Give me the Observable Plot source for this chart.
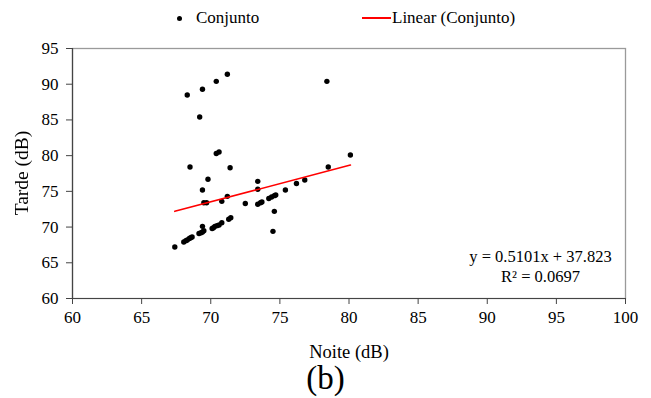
<!DOCTYPE html>
<html>
<head>
<meta charset="utf-8">
<script src="https://cdn.jsdelivr.net/npm/d3@7"></script>
<script src="https://cdn.jsdelivr.net/npm/@observablehq/plot@0.6"></script>
<style>
  body { margin: 0; background: #fff; }
  #wrap { position: relative; width: 651px; height: 398px; font-family: "Liberation Serif", "Times New Roman", serif; color: #000; background: #fff; }
  #wrap > svg { position: absolute; left: 0; top: 0; }
  .legend { position: absolute; top: 7px; left: 0; width: 651px; height: 22px; font-size: 17px; }
  .legend .item { position: absolute; top: 0; display: flex; align-items: center; height: 22px; }
  .legend .dot { width: 5px; height: 5px; border-radius: 50%; background: #000; margin-right: 14px; }
  .legend .swatch { width: 29px; height: 2px; background: #ff0000; margin-right: 1px; }
  .caption { position: absolute; top: 358px; left: 0; width: 651px; text-align: center; font-size: 33px; line-height: 40px; }
  .ytitle { position: absolute; left: 22px; top: 173px; width: 160px; margin-left: -80px; margin-top: -12px; height: 24px; line-height: 24px;
            text-align: center; font-size: 19.5px; color: #000; transform: rotate(-90deg); will-change: transform; background: #fff; }
</style>
</head>
<body>
<div id="wrap">
  <div class="legend">
    <div class="item" style="left:177px"><span class="dot"></span><span>Conjunto</span></div>
    <div class="item" style="left:362px"><span class="swatch"></span><span>Linear (Conjunto)</span></div>
  </div>
  <div class="ytitle" id="ytitle"></div>
  <div class="caption">(b)</div>
</div>
<script>
// Night (Noite) and afternoon (Tarde) sound levels, dB
const noite = [
  71.2, 70.4, 69.4, 68.3, 69.2, 78.4,
  70.4, 70.6, 68.5, 71.4, 69.8, 73.4, 69.4, 73.4,
  71.2, 70.8, 69.5, 69.7, 72.5, 73.4, 73.6, 73.7,
  74.2, 74.4, 74.6, 74.7, 74.6, 74.5,
  67.4, 68.05, 68.2, 68.3, 68.45, 68.55, 68.65,
  69.15, 69.3, 69.4, 69.4, 69.5,
  70.1, 70.2, 70.3, 70.45, 70.6, 70.8, 71.3, 71.45,
  80.1, 78.5, 76.8, 76.2, 75.4
];
const tarde = [
  91.4, 90.4, 89.3, 88.5, 85.4, 90.4,
  80.3, 80.5, 78.4, 78.3, 76.7, 76.4, 75.2, 75.3,
  74.3, 73.6, 73.4, 73.4, 73.3, 73.2, 73.4, 73.5,
  74.0, 74.2, 74.4, 74.5, 72.2, 69.4,
  67.2, 67.9, 68.1, 68.2, 68.4, 68.5, 68.6,
  69.1, 69.2, 69.3, 70.1, 69.5,
  69.8, 69.9, 70.1, 70.2, 70.3, 70.6, 71.1, 71.3,
  80.1, 78.4, 76.6, 76.1, 75.2
];

// Linear trendline fitted to the set
const slope = 0.5101;
const intercept = 37.823;
const r2 = 0.0697;

const xTicks = [60, 65, 70, 75, 80, 85, 90, 95, 100];
const yTicks = [60, 65, 70, 75, 80, 85, 90, 95];
const xLabel = "Noite (dB)";
const yLabel = "Tarde (dB)";

const points = noite.map((x, i) => ({x, y: tarde[i]}));
const xMin = d3.min(noite), xMax = d3.max(noite);
const trend = [xMin, xMax].map(x => ({x, y: slope * x + intercept}));

const chart = Plot.plot({
  width: 651,
  height: 398,
  marginLeft: 72,
  marginRight: 26,
  marginTop: 48,
  marginBottom: 100,
  style: {fontFamily: "Liberation Serif, Times New Roman, serif", fontSize: "17px", color: "#000", background: "#fff"},
  x: {domain: [60, 100]},
  y: {domain: [60, 95]},
  marks: [
    Plot.frame({stroke: "#9a9a9a", strokeWidth: 1.3}),
    Plot.ruleX([60], {stroke: "#444", strokeWidth: 1.2}),
    Plot.ruleY([60], {stroke: "#444", strokeWidth: 1.2}),
    Plot.axisX({ticks: xTicks, tickSize: 6, tickPadding: 6, fontSize: 17, label: null, stroke: "#444"}),
    Plot.axisY({ticks: yTicks, tickSize: 6, tickPadding: 8, fontSize: 17, label: null, stroke: "#444"}),
    Plot.text([xLabel], {frameAnchor: "bottom", dy: 54, lineAnchor: "middle", fontSize: 18.5, fill: "#000"}),
    Plot.dot(points, {x: "x", y: "y", r: 2.7, fill: "#000", stroke: null}),
    Plot.line(trend, {x: "x", y: "y", stroke: "#ff0000", strokeWidth: 1.6}),
    Plot.text([`y = ${slope}x + ${intercept}\nR² = ${r2}`], {
      frameAnchor: "bottom-right", dx: -85, dy: -17, textAnchor: "middle",
      lineAnchor: "bottom", lineHeight: 1.2, fontSize: 16.5
    })
  ]
});
document.getElementById("wrap").prepend(chart);
// rotated y-axis title, set beside the plot
document.getElementById("ytitle").textContent = yLabel;
</script>
</body>
</html>
